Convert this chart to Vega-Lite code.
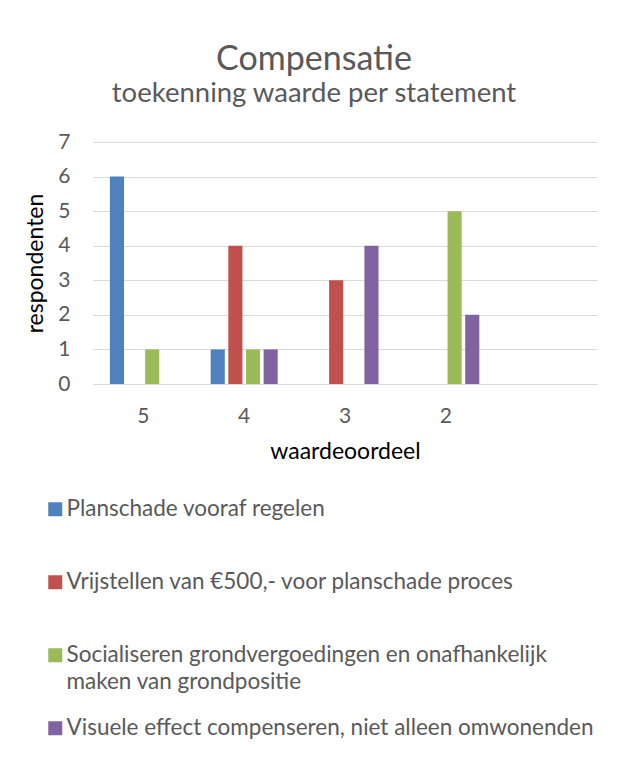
{
  "$schema": "https://vega.github.io/schema/vega-lite/v6.json",
  "autosize": "none",
  "width": 504,
  "height": 242,
  "padding": {"left": 93, "top": 142, "right": 25, "bottom": 376},
  "background": "white",
  "title": {
    "text": "Compensatie",
    "subtitle": "toekenning waarde per statement",
    "anchor": "middle",
    "frame": "group",
    "dx": -31,
    "offset": 24,
    "font": "Lato",
    "fontSize": 34,
    "fontWeight": "normal",
    "color": "#595959",
    "subtitleFont": "Lato",
    "subtitleFontSize": 27.5,
    "subtitleColor": "#595959",
    "subtitlePadding": 3
  },
  "data": {
    "values": [
      {"waardeoordeel": "5", "statement": "Planschade vooraf regelen", "respondenten": 6},
      {"waardeoordeel": "4", "statement": "Planschade vooraf regelen", "respondenten": 1},
      {"waardeoordeel": "3", "statement": "Planschade vooraf regelen", "respondenten": 0},
      {"waardeoordeel": "2", "statement": "Planschade vooraf regelen", "respondenten": 0},
      {"waardeoordeel": "5", "statement": "Vrijstellen van €500,- voor planschade proces", "respondenten": 0},
      {"waardeoordeel": "4", "statement": "Vrijstellen van €500,- voor planschade proces", "respondenten": 4},
      {"waardeoordeel": "3", "statement": "Vrijstellen van €500,- voor planschade proces", "respondenten": 3},
      {"waardeoordeel": "2", "statement": "Vrijstellen van €500,- voor planschade proces", "respondenten": 0},
      {"waardeoordeel": "5", "statement": "Socialiseren grondvergoedingen en onafhankelijk maken van grondpositie", "respondenten": 1},
      {"waardeoordeel": "4", "statement": "Socialiseren grondvergoedingen en onafhankelijk maken van grondpositie", "respondenten": 1},
      {"waardeoordeel": "3", "statement": "Socialiseren grondvergoedingen en onafhankelijk maken van grondpositie", "respondenten": 0},
      {"waardeoordeel": "2", "statement": "Socialiseren grondvergoedingen en onafhankelijk maken van grondpositie", "respondenten": 5},
      {"waardeoordeel": "5", "statement": "Visuele effect compenseren, niet alleen omwonenden", "respondenten": 0},
      {"waardeoordeel": "4", "statement": "Visuele effect compenseren, niet alleen omwonenden", "respondenten": 1},
      {"waardeoordeel": "3", "statement": "Visuele effect compenseren, niet alleen omwonenden", "respondenten": 4},
      {"waardeoordeel": "2", "statement": "Visuele effect compenseren, niet alleen omwonenden", "respondenten": 2}
    ]
  },
  "mark": {"type": "bar"},
  "encoding": {
    "x": {
      "field": "waardeoordeel",
      "type": "nominal",
      "scale": {"domain": ["5", "4", "3", "2", ""], "paddingInner": 0.3, "paddingOuter": 0.15},
      "axis": {
        "title": "waardeoordeel",
        "labelAngle": 0,
        "ticks": false,
        "grid": false,
        "domainColor": "#D9D9D9",
        "domainWidth": 1,
        "labelPadding": 21,
        "titlePadding": 14,
        "labelFont": "Lato",
        "labelFontSize": 21,
        "labelColor": "#595959",
        "titleFont": "Lato",
        "titleFontSize": 23,
        "titleFontWeight": "normal",
        "titleColor": "#000000"
      }
    },
    "xOffset": {
      "field": "statement",
      "type": "nominal",
      "sort": null,
      "scale": {"paddingInner": 0.2, "paddingOuter": 0.1}
    },
    "y": {
      "field": "respondenten",
      "type": "quantitative",
      "scale": {"domain": [0, 7], "nice": false},
      "axis": {
        "title": "respondenten",
        "values": [0, 1, 2, 3, 4, 5, 6, 7],
        "ticks": false,
        "domain": false,
        "grid": true,
        "gridColor": "#D9D9D9",
        "gridWidth": 1,
        "labelPadding": 23,
        "titlePadding": 10,
        "labelFont": "Lato",
        "labelFontSize": 21,
        "labelColor": "#595959",
        "titleFont": "Lato",
        "titleFontSize": 23,
        "titleFontWeight": 400,
        "titleColor": "#000000"
      }
    },
    "color": {
      "field": "statement",
      "type": "nominal",
      "sort": null,
      "scale": {
        "domain": [
          "Planschade vooraf regelen",
          "Vrijstellen van €500,- voor planschade proces",
          "Socialiseren grondvergoedingen en onafhankelijk maken van grondpositie",
          "Visuele effect compenseren, niet alleen omwonenden"
        ],
        "range": ["#4F81BD", "#C0504D", "#9BBB59", "#8064A2"]
      },
      "legend": {
        "title": null,
        "orient": "none",
        "legendX": -49,
        "legendY": 356,
        "direction": "vertical",
        "padding": 0,
        "symbolType": "square",
        "symbolSize": 196,
        "symbolStrokeWidth": 0,
        "labelOffset": 0,
        "labelFont": "Lato",
        "labelFontSize": 22.5,
        "labelColor": "#595959",
        "labelLimit": 700,
        "rowPadding": 23,
        "labelExpr": "datum.label === 'Socialiseren grondvergoedingen en onafhankelijk maken van grondpositie' ? ['Socialiseren grondvergoedingen en onafhankelijk', 'maken van grondpositie'] : (datum.label === 'Visuele effect compenseren, niet alleen omwonenden' ? datum.label : [datum.label, ''])",
        "encode": {
          "labels": {"update": {"lineHeight": {"value": 27}}}
        }
      }
    }
  },
  "config": {
    "view": {"stroke": null}
  }
}
